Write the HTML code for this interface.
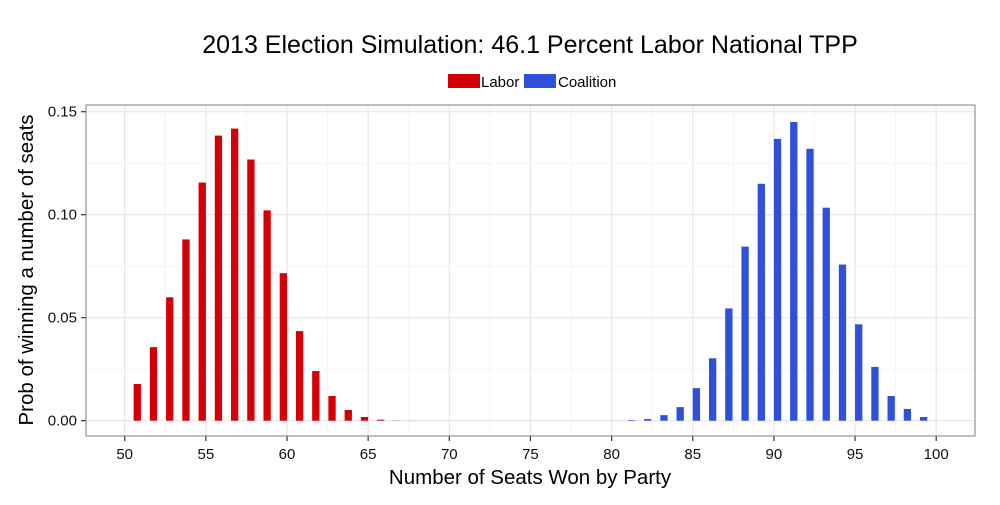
<!DOCTYPE html>
<html><head><meta charset="utf-8"><style>
body{margin:0;background:#fff;font-family:"Liberation Sans",Arial,sans-serif}
svg text{font-family:"Liberation Sans",Arial,sans-serif}
</style></head><body>
<svg id="c" width="1000" height="500" xmlns="http://www.w3.org/2000/svg">
<rect width="1000" height="500" fill="#fff"/>
<text x="530" y="53" text-anchor="middle" font-size="25">2013 Election Simulation: 46.1 Percent Labor National TPP</text>
<g>
<rect x="448" y="74" width="32" height="14" fill="#d40008"/>
<text x="481" y="87" font-size="15">Labor</text>
<rect x="524" y="74" width="32" height="14" fill="#3150d9"/>
<text x="558" y="87" font-size="15">Coalition</text>
</g>
<g id="grid"></g><g id="bars"></g><g id="axes"></g>
<rect x="86" y="105" width="889" height="331" fill="none" stroke="#7f7f7f" stroke-width="1"/>
<text x="530" y="484" text-anchor="middle" font-size="20.5">Number of Seats Won by Party</text>
<text transform="translate(33,270) rotate(-90)" text-anchor="middle" font-size="20.5">Prob of winning a number of seats</text>
</svg>
<script>
const laborSeats=[51,52,53,54,55,56,57,58,59,60,61,62,63,64,65,66,67,68];
const laborProb=[0.0178,0.0357,0.0599,0.0880,0.1156,0.1384,0.1418,0.1268,0.1021,0.0716,0.0435,0.0241,0.0120,0.0052,0.0018,0.0005,0.0002,0.0001];
const coalSeats=[80,81,82,83,84,85,86,87,88,89,90,91,92,93,94,95,96,97,98,99];
const coalProb=[0.0001,0.0003,0.0008,0.0027,0.0066,0.0158,0.0303,0.0545,0.0845,0.1150,0.1368,0.1450,0.1320,0.1034,0.0758,0.0468,0.0261,0.0120,0.0057,0.0018];
const xTicks=[50,55,60,65,70,75,80,85,90,95,100];
const yTicks=[0,0.05,0.10,0.15];
const yTickLabels=["0.00","0.05","0.10","0.15"];
const NS="http://www.w3.org/2000/svg";
const X=v=>124.7+(v-50)*16.23;
const Y=v=>420.7-v*2060;
function mk(p,tag,a){const e=document.createElementNS(NS,tag);for(const k in a)e.setAttribute(k,a[k]);p.appendChild(e);return e;}
const grid=document.getElementById('grid'),bars=document.getElementById('bars'),axes=document.getElementById('axes');
for(let v=47.5;v<=102.5;v+=2.5){const x=X(v);if(x<86||x>975)continue;const major=(v%5===0);
const l=mk(grid,'line',{x1:x,x2:x,y1:105,y2:436,stroke:major?'#e6e6e6':'#f5f5f5','stroke-width':major?1.2:1});

}
for(let v=0;v<=0.15001;v+=0.025){const y=Y(v);const major=Math.round(v*1000)%50===0;
const l=mk(grid,'line',{x1:86,x2:975,y1:y,y2:y,stroke:major?'#e6e6e6':'#f5f5f5','stroke-width':major?1.2:1});

}
laborSeats.forEach((s,i)=>{const p=laborProb[i];const x0=X(s-0.45),x1=X(s);
const r=mk(bars,'rect',{x:x0,y:Y(p),width:x1-x0,height:Y(0)-Y(p),fill:'#d40008','fill-opacity':p<0.0003?0.4:1});

});
coalSeats.forEach((s,i)=>{const p=coalProb[i];const x0=X(s),x1=X(s+0.45);
const r=mk(bars,'rect',{x:x0,y:Y(p),width:x1-x0,height:Y(0)-Y(p),fill:'#3150d9','fill-opacity':p<0.0003?0.4:1});

});
xTicks.forEach(v=>{const x=X(v);
const t=mk(axes,'line',{x1:x,x2:x,y1:436,y2:441,stroke:'#333','stroke-width':1.2});


const l=mk(axes,'text',{x:x,y:459,'text-anchor':'middle','font-size':15,fill:'#111'});l.textContent=v;

});
yTicks.forEach((v,i)=>{const y=Y(v);
const t=mk(axes,'line',{x1:81,x2:86,y1:y,y2:y,stroke:'#333','stroke-width':1.2});


const l=mk(axes,'text',{x:77,y:y+5,'text-anchor':'end','font-size':15,fill:'#111'});l.textContent=yTickLabels[i];

});
</script>
</body></html>
